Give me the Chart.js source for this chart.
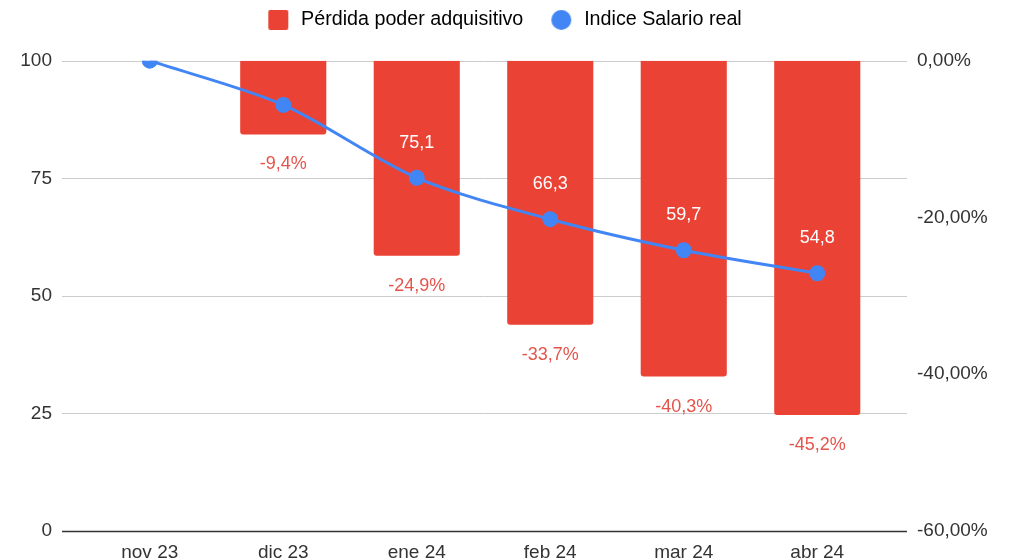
<!DOCTYPE html>
<html lang="es">
<head>
<meta charset="UTF-8" />
<title>Salario real</title>
<script src="https://cdn.jsdelivr.net/npm/chart.js"></script>
<style>
    html, body { margin: 0; padding: 0; overflow: hidden; background: #fff; }
    canvas { display: block; }
</style>
</head>
<body>
<canvas id="chart" width="1010" height="560"></canvas>

<script>
    const meses = ["nov 23", "dic 23", "ene 24", "feb 24", "mar 24", "abr 24"];
    const perdida = [0, -9.4, -24.9, -33.7, -40.3, -45.2];      // % poder adquisitivo
    const indiceSalario = [100, 90.6, 75.1, 66.3, 59.7, 54.8];   // indice base 100
    const ticksIndice = [0, 25, 50, 75, 100];
    const ticksPct = [-60, -40, -20, 0];

    const ROJO = "#ea4335";
    const AZUL = "#4285f4";
    const coma = (v, d) => v.toFixed(d).replace(".", ",");

    // legend icons (square / circle) with the left margin baked in
    function icono(tipo, color) {
        const c = document.createElement("canvas");
        c.width = 41; c.height = 20;
        const g = c.getContext("2d");
        g.fillStyle = color;
        g.beginPath();
        if (tipo === "circle") g.arc(28, 10, 10, 0, Math.PI * 2);
        else g.roundRect(18, 0, 20, 20, 2);
        g.fill();
        return c;
    }
    const iconos = [icono("rect", ROJO), icono("circle", AZUL)];

    // more room under the legend, and nudge it left a bit
    const legendSpace = {
        id: "legendSpace",
        beforeInit(chart) {
            const lg = chart.legend;
            const fit = lg.fit, draw = lg.draw;
            lg.fit = function () {
                fit.call(lg);
                lg.height += 21;
            };
            lg.draw = function () {
                chart.ctx.save();
                chart.ctx.translate(-9, 0);
                draw.call(lg);
                chart.ctx.restore();
            };
        }
    };

    // horizontal grid lines, a bit wider than the category band
    const gridLines = {
        id: "gridLines",
        beforeDatasetsDraw(chart) {
            const {ctx, chartArea, scales: {y}} = chart;
            ctx.save();
            ticksIndice.forEach(t => {
                const py = Math.round(y.getPixelForValue(t)) + 0.5;
                ctx.strokeStyle = t === 0 ? "#333" : "#ccc";
                ctx.lineWidth = t === 0 ? 1.5 : 1;
                ctx.beginPath();
                ctx.moveTo(chartArea.left - 21, py);
                ctx.lineTo(chartArea.right + 23, py);
                ctx.stroke();
            });
            ctx.restore();
        }
    };

    const etiquetas = {
        id: "etiquetas",
        afterDatasetsDraw(chart) {
            const ctx = chart.ctx;
            ctx.save();
            ctx.textAlign = "center";
            ctx.textBaseline = "middle";
            ctx.font = "18px Arial, 'Liberation Sans'";

            chart.getDatasetMeta(0).data.forEach((bar, i) => {
                if (!perdida[i]) return;
                ctx.fillStyle = "#e5544b";
                ctx.fillText(coma(perdida[i], 1) + "%", bar.x, bar.y + 30);
            });

            // first two labels are hidden in the original (they collide)
            chart.getDatasetMeta(1).data.forEach((pt, i) => {
                if (i < 2) return;
                ctx.fillStyle = "#fff";
                ctx.fillText(coma(indiceSalario[i], 1), pt.x, pt.y - 35);
            });
            ctx.restore();
        }
    };

    const ajusteY = (ancho) => (s) => {
        s.width = ancho;
        s.paddingTop = 0;
        s.paddingBottom = 0;
    };

    Chart.defaults.font.family = "Arial, 'Liberation Sans', sans-serif";
    Chart.defaults.font.size = 19;
    Chart.defaults.color = "#333";

    new Chart(document.getElementById("chart"), {
        data: {
            labels: meses,
            datasets: [{
                type: "bar",
                label: "Pérdida poder adquisitivo",
                data: perdida,
                backgroundColor: ROJO,
                borderRadius: 3,
                barPercentage: 0.645,
                categoryPercentage: 1,
                yAxisID: "y1",
                order: 2
            }, {
                type: "line",
                label: "Indice Salario real",
                data: indiceSalario,
                borderColor: AZUL,
                backgroundColor: AZUL,
                borderWidth: 3,
                pointRadius: 6.5,
                pointHoverRadius: 6.5,
                tension: 0.3,
                yAxisID: "y",
                order: 1
            }]
        },
        options: {
            responsive: false,
            animation: false,
            layout: { padding: 0 },
            plugins: {
                tooltip: { enabled: false },
                legend: {
                    position: "top",
                    labels: {
                        usePointStyle: true,
                        pointStyleWidth: 41,
                        padding: 10,
                        color: "#333",
                        font: { size: 19.7 },
                        generateLabels: (chart) => chart.data.datasets.map((ds, i) => ({
                            text: ds.label,
                            pointStyle: iconos[i],
                            fillStyle: ds.backgroundColor,
                            strokeStyle: ds.backgroundColor,
                            lineWidth: 0,
                            datasetIndex: i,
                            hidden: false
                        }))
                    }
                }
            },
            scales: {
                x: {
                    grid: { display: false },
                    border: { display: false },
                    ticks: { padding: 2 },
                    afterFit: s => { s.height = 29; }
                },
                y: {
                    position: "left",
                    min: 0,
                    max: 100,
                    grid: { display: false },
                    border: { display: false },
                    afterBuildTicks: s => { s.ticks = ticksIndice.map(v => ({value: v})); },
                    ticks: { padding: 23 },
                    afterFit: ajusteY(83)
                },
                y1: {
                    position: "right",
                    min: -60,
                    max: 0,
                    grid: { display: false },
                    border: { display: false },
                    afterBuildTicks: s => { s.ticks = ticksPct.map(v => ({value: v})); },
                    ticks: { padding: 25, callback: v => coma(v, 2) + "%" },
                    afterFit: ajusteY(126)
                }
            }
        },
        plugins: [legendSpace, gridLines, etiquetas]
    });
</script>
</body>
</html>
